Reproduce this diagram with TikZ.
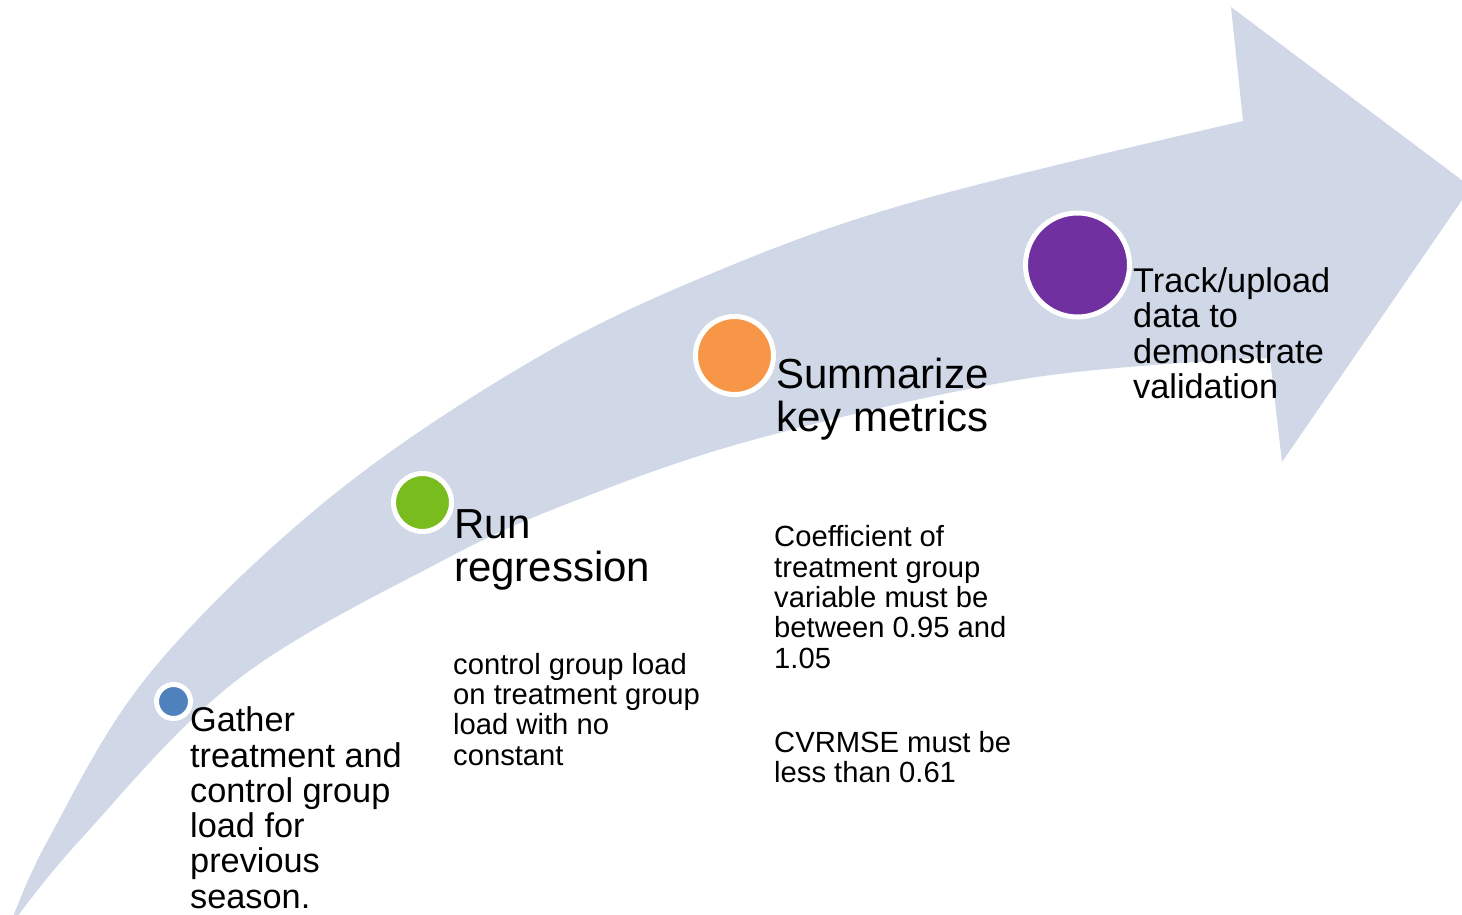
\documentclass[tikz,border=0pt]{standalone}
\usepackage{fontspec}
\setmainfont{Liberation Sans}
\definecolor{arrowfill}{HTML}{D0D8E8}
\definecolor{cblue}{HTML}{4F81BD}
\definecolor{cgreen}{HTML}{78BC1E}
\definecolor{corange}{HTML}{F79646}
\definecolor{cpurple}{HTML}{7030A0}
\begin{document}
\begin{tikzpicture}[x=1pt,y=-1pt,
  dot/.style={circle, draw=white, line width=5pt, inner sep=0pt},
  bigtext/.style={anchor=base west, inner sep=0pt, align=left, font=\fontsize{42pt}{43.4pt}\selectfont},
  midtext/.style={anchor=base west, inner sep=0pt, align=left, font=\fontsize{34.3pt}{35.3pt}\selectfont},
  smalltext/.style={anchor=base west, inner sep=0pt, align=left, font=\fontsize{29.2pt}{30.3pt}\selectfont}]
\useasboundingbox (0,0) rectangle (1462,915);
\begin{scope}
\clip (0,0) rectangle (1462,915);
\fill[arrowfill] plot[smooth, tension=0.6] coordinates {(9,928) (48,840) (150,673) (327,500) (533,360) (720,270) (920,200) (1243,121)}
  -- (1231,7) -- (1471,187) -- (1282,462) -- (1270,358)
  -- plot[smooth, tension=0.6] coordinates {(1270,358) (1030,378) (760,438) (577,500) (440,562) (237,680) (80,840) (9,928)} -- cycle;
\end{scope}
\node[dot, fill=cblue, minimum size=34pt] (c1) at (173.5,701.5) {};
\node[dot, fill=cgreen, minimum size=58pt] (c2) at (422.5,502.5) {};
\node[dot, fill=corange, minimum size=78pt] (c3) at (734.5,355.5) {};
\node[dot, fill=cpurple, minimum size=104pt] (c4) at (1077.5,265) {};
% base anchor = baseline of the last line
\node[midtext] (t1) at (190,908.2) {Gather\\treatment and\\control group\\load for\\previous\\season.};
\node[bigtext] (t2) at (454,581.7) {Run\\regression};
\node[smalltext] (d2) at (453,765) {control group load\\on treatment group\\load with no\\constant};
\node[bigtext] (t3) at (776,431.7) {Summarize\\key metrics};
\node[smalltext] (d3) at (774,782.3) {Coefficient of\\treatment group\\variable must be\\between 0.95 and\\1.05\\[53.7pt]CVRMSE must be\\less than 0.61};
\node[midtext] (t4) at (1133,398.3) {Track/upload\\data to\\demonstrate\\validation};
\end{tikzpicture}
\end{document}
